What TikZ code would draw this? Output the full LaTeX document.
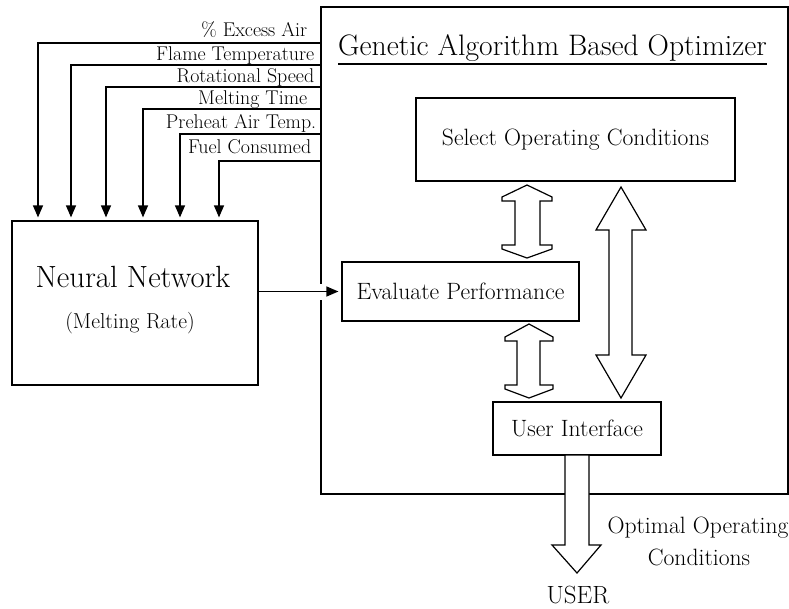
\documentclass[tikz,border=0pt]{standalone}
\usepackage{tikz}
\usetikzlibrary{arrows.meta,calc}

\tikzset{
  blk/.style={draw, line width=1.2pt, inner sep=0pt},
  feed/.style={line width=1.2pt, -{Triangle[length=12pt,width=10pt]}, shorten >=3pt},
  lbl/.style={font=\fontsize{19.9}{22}\selectfont, anchor=base east, inner sep=0pt},
  fat/.style={draw, fill=white, line width=1.2pt, line join=miter},
  txt/.style={font=\fontsize{23.6}{26}\selectfont, inner sep=0pt},
}

\begin{document}
\begin{tikzpicture}[x=1pt,y=-1pt]
\useasboundingbox (0,0) rectangle (789,608);
% Optimizer
\node[blk, minimum width=467pt, minimum height=487pt] (opt) at (554.5,250.5) {};
\node[font=\fontsize{29.6}{32}\selectfont, anchor=base, inner sep=0pt] (title) at (552.5,55) {Genetic Algorithm Based Optimizer};
\draw[line width=1.2pt] ([yshift=-9pt]title.base west) -- ([yshift=-9pt]title.base east);
\node[blk, txt, minimum width=319pt, minimum height=83pt] (sel) at (575.5,139.5) {Select Operating Conditions};
\node[blk, txt, minimum width=237pt, minimum height=59pt] (ev) at (460.5,291.5) {Evaluate Performance};
\node[blk, txt, minimum width=168pt, minimum height=53pt] (ui) at (577,428.5) {User Interface};
% Red neuronal
\node[blk, minimum width=246pt, minimum height=164pt] (nn) at (135,303) {};
\node[font=\fontsize{30.7}{33}\selectfont, anchor=base, inner sep=0pt] (nnname) at (133,287) {Neural Network};
\node[font=\fontsize{21.6}{24}\selectfont, anchor=base, inner sep=0pt] (nnrate) at (130,328) {(Melting Rate)};
% Entradas
\foreach \y/\x/\r/\d/\t [count=\i] in {43/38/13/7/{\% Excess Air}, 65/71/6/5/{Flame Temperature}, 87/106/6/5/{Rotational Speed}, 109/143/13/5/{Melting Time}, 134/180/4/6/{Preheat Air Temp.}, 161/219/9/8/{Fuel Consumed}} {
  \coordinate (in\i) at (opt.west |- 0,\y);
  \node[lbl] (lab\i) at ($(in\i)+(-\r,-\d)$) {\t};
  \draw[feed] (in\i) -| (\x,0 |- nn.north);
}
% Salida de la red
\fill[white] ($(opt.west |- ev.west)+(-4,-8)$) rectangle ($(opt.west |- ev.west)+(4,8)$);
\draw[feed] (ev.west -| nn.east) -- (ev.west);
% Flechas dobles
\draw[fat] (527,185) -- (552,197) -- (552,201) -- (540,201) -- (540,245) -- (552,245) -- (552,249) -- (527,258)
  -- (502,249) -- (502,245) -- (515,245) -- (515,201) -- (502,201) -- (502,197) -- cycle;
\draw[fat] (529,324) -- (553,337) -- (553,341) -- (540,341) -- (540,385) -- (553,385) -- (553,389) -- (529,398)
  -- (505,389) -- (505,385) -- (517,385) -- (517,341) -- (505,341) -- (505,337) -- cycle;
\draw[fat] (621,187) -- (646,230) -- (632,230) -- (632,355) -- (646,355) -- (621,398)
  -- (596,355) -- (609,355) -- (609,230) -- (596,230) -- cycle;
% Salida
\draw[fat] (565,455) -- (589,455) -- (589,545) -- (601,545) -- (577,573) -- (552,545) -- (565,545) -- cycle;
\node[txt, anchor=base] (opt1) at (698,533) {Optimal Operating};
\node[txt, anchor=base] (opt2) at (699,565) {Conditions};
\node[font=\fontsize{24.9}{27}\selectfont, anchor=base, inner sep=0pt] (user) at (578,603) {USER};
\end{tikzpicture}
\end{document}
